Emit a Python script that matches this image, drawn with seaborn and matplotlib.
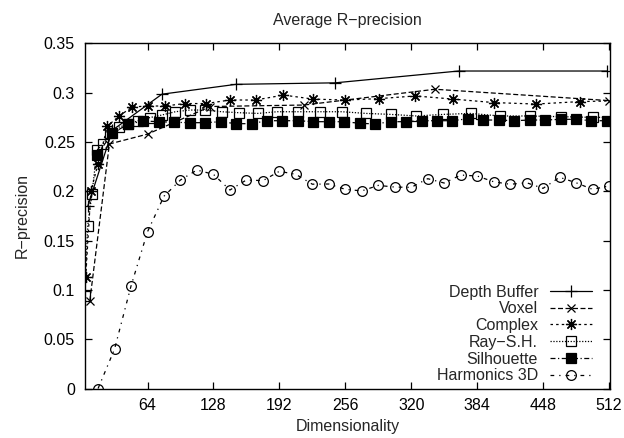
import matplotlib
matplotlib.use("Agg")
import matplotlib.pyplot as plt
import seaborn as sns
import pandas as pd

# Datos (dimensionalidad vs R-precision)
depth_x = [6, 30, 78, 150, 246, 366, 510]
depth_y = [0.185, 0.262, 0.2985, 0.3085, 0.310, 0.322, 0.322]

voxel_x = [8, 27, 64, 125, 216, 343, 512]
voxel_y = [0.089, 0.248, 0.258, 0.286, 0.2875, 0.3035, 0.292]

complex_x = [4, 9, 16, 25, 36, 49, 64, 81, 100, 121, 144, 169, 196, 225, 256,
             289, 324, 361, 400, 441, 484, 529]
complex_y = [0.113, 0.200, 0.228, 0.266, 0.276, 0.2855, 0.2865, 0.2865, 0.289,
             0.289, 0.2926, 0.2926, 0.2976, 0.2935, 0.2926, 0.294, 0.2967,
             0.2935, 0.290, 0.2885, 0.291, 0.292]

ray_x = [3, 6, 10, 15, 21, 28, 36, 45, 55, 66, 78, 91, 105, 120, 136, 153, 171,
         190, 210, 231, 253, 276, 300, 325, 351, 378, 406, 435, 465, 496, 528]
ray_y = [0.094, 0.165, 0.197, 0.242, 0.248, 0.259, 0.265, 0.268, 0.2716,
         0.2747, 0.2774, 0.2807, 0.2824, 0.2824, 0.2807, 0.2797, 0.279, 0.2807,
         0.2807, 0.2807, 0.2807, 0.279, 0.278, 0.2764, 0.278, 0.279, 0.2764,
         0.2764, 0.2757, 0.275, 0.275]

sil_x = [15, 30, 45, 60, 75, 90, 105, 120, 135, 150, 165, 180, 195, 210, 225,
         240, 255, 270, 285, 300, 315, 330, 345, 360, 375, 390, 405, 420, 435,
         450, 465, 480, 495, 510]
sil_y = [0.237, 0.259, 0.268, 0.2713, 0.2706, 0.270, 0.2696, 0.2696, 0.2706,
         0.2686, 0.2686, 0.2716, 0.2716, 0.2716, 0.2706, 0.2706, 0.2706, 0.269,
         0.2683, 0.2706, 0.2706, 0.2716, 0.2716, 0.2716, 0.2736, 0.2723,
         0.2723, 0.2716, 0.2723, 0.2723, 0.273, 0.273, 0.2716, 0.2716]

harm_x = [16, 32, 48, 64, 80, 96, 112, 128, 144, 160, 176, 192, 208, 224, 240,
          256, 272, 288, 304, 320, 336, 352, 368, 384, 400, 416, 432, 448, 464,
          480, 496, 512]
harm_y = [0.0, 0.040, 0.104, 0.159, 0.195, 0.2115, 0.2216, 0.2172, 0.2013,
          0.2115, 0.2108, 0.2203, 0.2172, 0.2072, 0.2074, 0.202, 0.2004, 0.206,
          0.2043, 0.204, 0.2128, 0.2084, 0.2165, 0.2155, 0.2097, 0.2071,
          0.2087, 0.203, 0.2142, 0.2087, 0.202, 0.2054]

series = [
    ("Depth Buffer", depth_x, depth_y, dict(linestyle="-", marker="+", markersize=8, mfc="k")),
    ("Voxel", voxel_x, voxel_y, dict(linestyle=(0, (4, 2)), marker="x", markersize=6, mfc="k")),
    ("Complex", complex_x, complex_y, dict(linestyle=(0, (2, 2.5)), marker=(8, 2, 0), markersize=8, mfc="k")),
    ("Ray\u2212S.H.", ray_x, ray_y, dict(linestyle=(0, (1, 1.3)), marker="s", markersize=7, mfc="none")),
    ("Silhouette", sil_x, sil_y, dict(linestyle=(0, (4, 2, 1, 2)), marker="s", markersize=6.5, mfc="k")),
    ("Harmonics 3D", harm_x, harm_y, dict(linestyle=(0, (3, 4, 1, 4)), marker="o", markersize=7, mfc="none")),
]

sns.set_style("ticks")
plt.rcParams["font.family"] = ["Liberation Sans", "DejaVu Sans"]
plt.rcParams["font.size"] = 11.5

fig = plt.figure(figsize=(6.24, 4.38), dpi=100)
ax = fig.add_axes([0.1357, 0.113, 0.8419, 0.7879])

for name, xs, ys, st in series:
    df = pd.DataFrame({"dim": xs, "rp": ys})
    sns.lineplot(data=df, x="dim", y="rp", ax=ax, color="k", linewidth=0.9,
                 markeredgecolor="k", markeredgewidth=0.9, label=name, **st)

ax.set_xlim(3, 513)
ax.set_ylim(0, 0.35)
ax.set_xticks([64, 128, 192, 256, 320, 384, 448, 512])
ax.set_yticks([0, 0.05, 0.1, 0.15, 0.2, 0.25, 0.3, 0.35])
ax.set_yticklabels(["0", "0.05", "0.1", "0.15", "0.2", "0.25", "0.3", "0.35"])
ax.tick_params(direction="in", length=5, width=0.9, top=True, right=True,
               labelsize=11.5, pad=7, colors="k")
for s in ax.spines.values():
    s.set_linewidth(1.0)
    s.set_color("k")

ax.set_title("Average R\u2212precision", fontsize=11.5, pad=13)
ax.set_xlabel("Dimensionality", fontsize=11.5, labelpad=4)
ax.set_ylabel("R\u2212precision", fontsize=11.5, labelpad=10)

ax.legend(loc="lower right", bbox_to_anchor=(0.965, 0.015), frameon=False,
          markerfirst=False, handlelength=2.6, handletextpad=0.75,
          labelspacing=0.11, borderpad=0, borderaxespad=0, fontsize=11.5)

fig.savefig("out.png", dpi=100)
